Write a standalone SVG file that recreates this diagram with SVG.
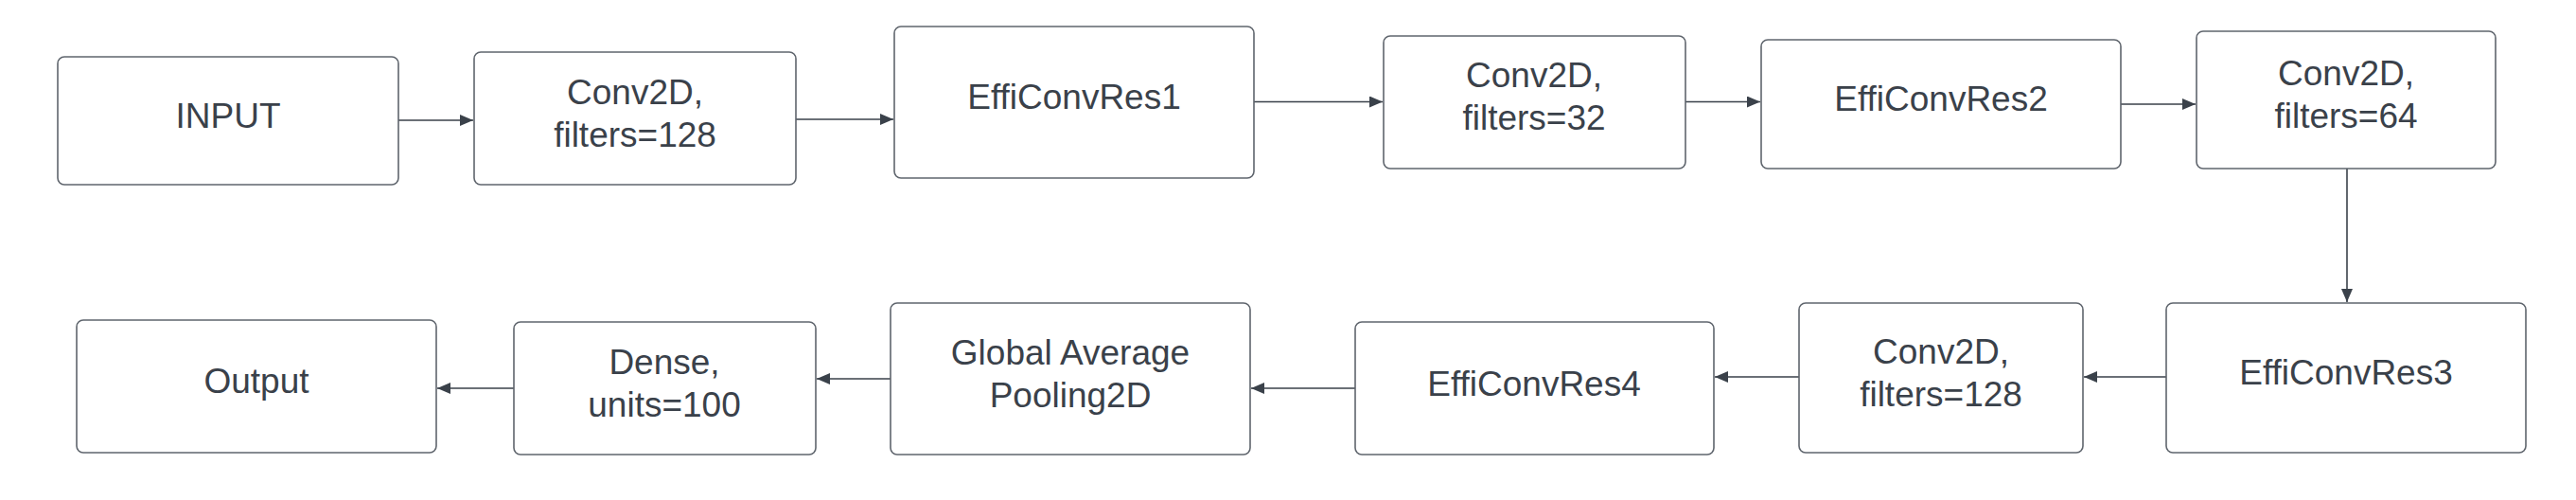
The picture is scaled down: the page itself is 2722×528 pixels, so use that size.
<svg xmlns="http://www.w3.org/2000/svg" width="2722" height="528" viewBox="0 0 2722 528">
<style>
.box{fill:#fff;stroke:#5f656d;stroke-width:1.6}
.lbl{font-family:"Liberation Sans",Arial,sans-serif;font-size:37px;fill:#3a414a;text-anchor:middle}
.edge{fill:none;stroke:#3a414a;stroke-width:1.6}
</style>
<defs>
<marker id="ah" markerUnits="userSpaceOnUse" markerWidth="16" markerHeight="12" refX="14" refY="6" orient="auto">
<path d="M0,0 L14,6 L0,12 Z" fill="#3a414a"/>
</marker>
</defs>
<rect width="2722" height="528" fill="#fff"/>
<g id="connectors">
<line class="edge" x1="421" y1="127" x2="500" y2="127" marker-end="url(#ah)"/>
<line class="edge" x1="841" y1="126" x2="944" y2="126" marker-end="url(#ah)"/>
<line class="edge" x1="1325" y1="107.5" x2="1461" y2="107.5" marker-end="url(#ah)"/>
<line class="edge" x1="1781" y1="107.5" x2="1860" y2="107.5" marker-end="url(#ah)"/>
<line class="edge" x1="2241" y1="110" x2="2320" y2="110" marker-end="url(#ah)"/>
<line class="edge" x1="2480" y1="178" x2="2480" y2="319" marker-end="url(#ah)"/>
<line class="edge" x1="2289" y1="398" x2="2202" y2="398" marker-end="url(#ah)"/>
<line class="edge" x1="1901" y1="398" x2="1812" y2="398" marker-end="url(#ah)"/>
<line class="edge" x1="1432" y1="410" x2="1322" y2="410" marker-end="url(#ah)"/>
<line class="edge" x1="941" y1="400" x2="863" y2="400" marker-end="url(#ah)"/>
<line class="edge" x1="543" y1="410" x2="462" y2="410" marker-end="url(#ah)"/>
</g>
<g id="input"><rect class="box" x="61" y="60" width="360" height="135" rx="7"/><text class="lbl" x="241" y="135">INPUT</text></g>
<g id="conv1"><rect class="box" x="501" y="55" width="340" height="140" rx="7"/><text class="lbl" x="671" y="110">Conv2D,</text><text class="lbl" x="671" y="155">filters=128</text></g>
<g id="effi1"><rect class="box" x="945" y="28" width="380" height="160" rx="7"/><text class="lbl" x="1135" y="115">EffiConvRes1</text></g>
<g id="conv2"><rect class="box" x="1462" y="38" width="319" height="140" rx="7"/><text class="lbl" x="1621" y="92">Conv2D,</text><text class="lbl" x="1621" y="137">filters=32</text></g>
<g id="effi2"><rect class="box" x="1861" y="42" width="380" height="136" rx="7"/><text class="lbl" x="2051" y="117">EffiConvRes2</text></g>
<g id="conv3"><rect class="box" x="2321" y="33" width="316" height="145" rx="7"/><text class="lbl" x="2479" y="90">Conv2D,</text><text class="lbl" x="2479" y="135">filters=64</text></g>
<g id="effi3"><rect class="box" x="2289" y="320" width="380" height="158" rx="7"/><text class="lbl" x="2479" y="406">EffiConvRes3</text></g>
<g id="conv4"><rect class="box" x="1901" y="320" width="300" height="158" rx="7"/><text class="lbl" x="2051" y="384">Conv2D,</text><text class="lbl" x="2051" y="429">filters=128</text></g>
<g id="effi4"><rect class="box" x="1432" y="340" width="379" height="140" rx="7"/><text class="lbl" x="1621" y="418">EffiConvRes4</text></g>
<g id="gap"><rect class="box" x="941" y="320" width="380" height="160" rx="7"/><text class="lbl" x="1131" y="385">Global Average</text><text class="lbl" x="1131" y="430">Pooling2D</text></g>
<g id="dense"><rect class="box" x="543" y="340" width="319" height="140" rx="7"/><text class="lbl" x="702" y="395">Dense,</text><text class="lbl" x="702" y="440">units=100</text></g>
<g id="output"><rect class="box" x="81" y="338" width="380" height="140" rx="7"/><text class="lbl" x="271" y="415">Output</text></g>
</svg>
